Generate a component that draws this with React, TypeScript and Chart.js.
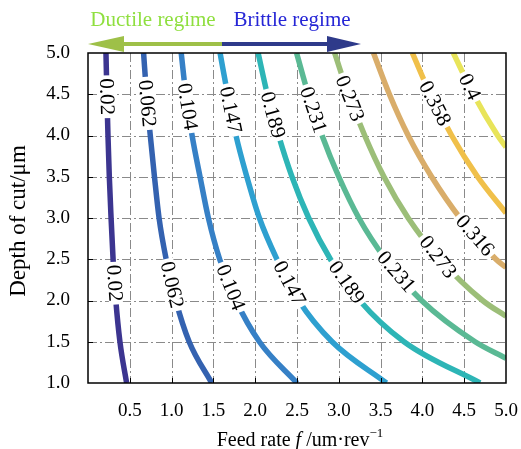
import React, { useEffect, useRef } from 'react';
import { Chart, registerables } from 'chart.js';

Chart.register(...registerables);

const SERIF = "'Liberation Serif', 'Times New Roman', serif";

// contour levels and colours
const levels = ['0.02', '0.062', '0.104', '0.147', '0.189', '0.231', '0.273', '0.316', '0.358', '0.4'];
const colors = ['#3c3590', '#3462b0', '#3680c6', '#2ea0d0', '#2db5b6', '#5ab994', '#9cbe78', '#d9ad6a', '#f0c04a', '#e8e45a'];

// depth of cut (y) and feed rate (x) along each contour
const depthFull = [5.0, 4.5, 4.0, 3.5, 3.0, 2.5, 2.0, 1.5, 1.0];
const feed002 = [0.215, 0.226, 0.239, 0.255, 0.276, 0.300, 0.333, 0.382, 0.462];
const feed0062 = [0.665, 0.70, 0.745, 0.795, 0.85, 0.935, 1.05, 1.21, 1.48];
const feed0104 = [1.115, 1.17, 1.245, 1.34, 1.44, 1.575, 1.77, 2.05, 2.50];
const feed0147 = [1.58, 1.67, 1.77, 1.90, 2.05, 2.26, 2.52, 2.92, 3.57];
const feed0189 = [2.035, 2.145, 2.28, 2.44, 2.64, 2.90, 3.25, 3.78, 4.69];
const depth0231 = [5.0, 4.5, 4.0, 3.5, 3.0, 2.5, 2.0, 1.5, 1.30];
const feed0231 = [2.495, 2.635, 2.80, 3.0, 3.24, 3.56, 3.99, 4.63, 5.0];
const depth0273 = [5.0, 4.5, 4.0, 3.5, 3.0, 2.5, 2.0, 1.81];
const feed0273 = [2.95, 3.115, 3.31, 3.54, 3.83, 4.21, 4.72, 5.0];
const depth0316 = [5.0, 4.5, 4.0, 3.5, 3.0, 2.5, 2.40];
const feed0316 = [3.415, 3.605, 3.83, 4.11, 4.45, 4.88, 5.0];
const depth0358 = [5.0, 4.5, 4.0, 3.5, 3.06];
const feed0358 = [3.88, 4.095, 4.35, 4.66, 5.0];
const depth04 = [5.0, 4.5, 4.0, 3.86];
const feed04 = [4.37, 4.61, 4.90, 5.0];

const contourFeeds = [feed002, feed0062, feed0104, feed0147, feed0189, feed0231, feed0273, feed0316, feed0358, feed04];
const contourDepths = [depthFull, depthFull, depthFull, depthFull, depthFull, depth0231, depth0273, depth0316, depth0358, depth04];

// depth at which inline labels sit on each contour
const topLabelDepth = [4.47, 4.39, 4.35, 4.31, 4.25, 4.31, 4.45, null, 4.39, 4.59];
const bottomLabelDepth = [2.21, 2.19, 2.16, 2.21, 2.22, 2.35, 2.53, 2.79, null, null];

const xTicks = [0.5, 1.0, 1.5, 2.0, 2.5, 3.0, 3.5, 4.0, 4.5];
const yTicks = [1.5, 2.0, 2.5, 3.0, 3.5, 4.0, 4.5];

const decorPlugin = {
  id: 'decor',
  beforeDatasetsDraw(chart: any) {
    const { ctx, chartArea: a, scales } = chart;
    const xs = scales.x, ys = scales.y;
    ctx.save();
    ctx.strokeStyle = '#8a8a8a';
    ctx.lineWidth = 1;
    ctx.setLineDash([9, 3, 2, 3]);
    xTicks.forEach((v) => {
      const px = Math.round(xs.getPixelForValue(v)) + 0.5;
      ctx.beginPath();
      ctx.moveTo(px, a.top);
      ctx.lineTo(px, a.bottom);
      ctx.stroke();
    });
    yTicks.forEach((v) => {
      const py = Math.round(ys.getPixelForValue(v)) + 0.5;
      ctx.beginPath();
      ctx.moveTo(a.left, py);
      ctx.lineTo(a.right, py);
      ctx.stroke();
    });
    ctx.restore();
  },
  afterDatasetsDraw(chart: any) {
    const { ctx, chartArea: a, scales } = chart;
    const xs = scales.x, ys = scales.y;
    // inline contour labels
    ctx.save();
    ctx.font = `21px ${SERIF}`;
    levels.forEach((lab, i) => {
      const meta = chart.getDatasetMeta(i);
      const pts = meta.data;
      [topLabelDepth[i], bottomLabelDepth[i]].forEach((d) => {
        if (d === null || d === undefined) return;
        const py = ys.getPixelForValue(d);
        for (let j = 0; j < pts.length - 1; j++) {
          const p1 = pts[j], p2 = pts[j + 1];
          if (p1.y <= py && py <= p2.y) {
            const t = (py - p1.y) / (p2.y - p1.y || 1);
            const px = p1.x + t * (p2.x - p1.x);
            const ang = Math.atan2(p2.y - p1.y, p2.x - p1.x);
            const w = ctx.measureText(lab).width;
            ctx.save();
            ctx.translate(px, py);
            ctx.rotate(ang);
            ctx.fillStyle = '#ffffff';
            ctx.fillRect(-w / 2 - 3, -7, w + 6, 14);
            ctx.fillStyle = '#000000';
            ctx.textAlign = 'center';
            ctx.textBaseline = 'middle';
            ctx.fillText(lab, 0, 1);
            ctx.restore();
            break;
          }
        }
      });
    });
    ctx.restore();

    // frame and inner ticks
    ctx.save();
    ctx.strokeStyle = '#000';
    ctx.lineWidth = 1.5;
    ctx.strokeRect(a.left, a.top, a.right - a.left, a.bottom - a.top);
    ctx.lineWidth = 1;
    xTicks.forEach((v) => {
      const px = Math.round(xs.getPixelForValue(v)) + 0.5;
      ctx.beginPath();
      ctx.moveTo(px, a.bottom);
      ctx.lineTo(px, a.bottom - 5);
      ctx.stroke();
    });
    yTicks.forEach((v) => {
      const py = Math.round(ys.getPixelForValue(v)) + 0.5;
      ctx.beginPath();
      ctx.moveTo(a.left, py);
      ctx.lineTo(a.left + 5, py);
      ctx.stroke();
    });
    ctx.restore();
  },
  afterDraw(chart: any) {
    const { ctx } = chart;
    ctx.save();
    // x title
    const parts = [
      { t: 'Feed rate ', f: `20px ${SERIF}`, dy: 0 },
      { t: 'f', f: `italic 20px ${SERIF}`, dy: 0 },
      { t: ' /um·rev', f: `20px ${SERIF}`, dy: 0 },
      { t: '−1', f: `13px ${SERIF}`, dy: -9 },
    ];
    let total = 0;
    parts.forEach((p) => { ctx.font = p.f; total += ctx.measureText(p.t).width; });
    let x = 300 - total / 2;
    ctx.fillStyle = '#000';
    ctx.textBaseline = 'alphabetic';
    ctx.textAlign = 'left';
    parts.forEach((p) => {
      ctx.font = p.f;
      ctx.fillText(p.t, x, 446 + p.dy);
      x += ctx.measureText(p.t).width;
    });
    // y title
    ctx.save();
    ctx.translate(25, 221);
    ctx.rotate(-Math.PI / 2);
    ctx.font = `23px ${SERIF}`;
    ctx.textAlign = 'center';
    ctx.fillText('Depth of cut/μm', 0, 0);
    ctx.restore();

    // regime legend
    ctx.font = `21px ${SERIF}`;
    ctx.textAlign = 'center';
    ctx.fillStyle = '#8fdf3f';
    ctx.fillText('Ductile regime', 153, 26);
    ctx.fillStyle = '#2626d6';
    ctx.fillText('Brittle regime', 292, 26);

    // arrows
    ctx.lineWidth = 4;
    ctx.strokeStyle = '#9ec048';
    ctx.beginPath(); ctx.moveTo(118, 44); ctx.lineTo(222, 44); ctx.stroke();
    ctx.fillStyle = '#9ec048';
    ctx.beginPath(); ctx.moveTo(88, 44); ctx.lineTo(124, 36); ctx.lineTo(124, 52); ctx.closePath(); ctx.fill();
    ctx.strokeStyle = '#2e3a8a';
    ctx.beginPath(); ctx.moveTo(222, 44); ctx.lineTo(332, 44); ctx.stroke();
    ctx.fillStyle = '#2e3a8a';
    ctx.beginPath(); ctx.moveTo(361, 44); ctx.lineTo(327, 36); ctx.lineTo(327, 52); ctx.closePath(); ctx.fill();
    ctx.restore();
  },
};

export default function App() {
  const ref = useRef<HTMLCanvasElement | null>(null);
  useEffect(() => {
    if (!ref.current) return;
    const datasets = levels.map((lab, i) => ({
      label: lab,
      data: contourFeeds[i].map((f, k) => ({ x: f, y: contourDepths[i][k] })).sort((p, q) => p.x - q.x),
      borderColor: colors[i],
      backgroundColor: colors[i],
      borderWidth: 5.5,
      pointRadius: 0,
      showLine: true,
      fill: false,
      cubicInterpolationMode: 'monotone' as const,
      clip: 0,
    }));
    const tickFont = { family: SERIF, size: 19 };
    const chart = new Chart(ref.current, {
      type: 'scatter',
      data: { datasets },
      options: {
        animation: false,
        responsive: false,
        devicePixelRatio: 1,
        layout: { padding: { left: 0, right: 15, top: 53, bottom: 0 } },
        plugins: { legend: { display: false }, tooltip: { enabled: false } },
        scales: {
          x: {
            type: 'linear',
            min: 0,
            max: 5,
            grid: { display: false, drawTicks: false },
            border: { display: false },
            ticks: {
              stepSize: 0.5,
              autoSkip: false,
              maxRotation: 0,
              padding: 17,
              color: '#000',
              font: tickFont,
              callback: (v: any) => (Number(v) === 0 ? '' : Number(v).toFixed(1)),
            },
            afterFit: (s: any) => { s.height = 66; s.paddingLeft = 0; s.paddingRight = 0; },
          },
          y: {
            type: 'linear',
            min: 1,
            max: 5,
            grid: { display: false, drawTicks: false },
            border: { display: false },
            ticks: {
              stepSize: 0.5,
              autoSkip: false,
              padding: 18,
              color: '#000',
              font: tickFont,
              callback: (v: any) => Number(v).toFixed(1),
            },
            afterFit: (s: any) => { s.width = 88; s.paddingTop = 0; s.paddingBottom = 0; },
          },
        },
      },
      plugins: [decorPlugin],
    });
    return () => chart.destroy();
  }, []);
  return (
    <div style={{ position: 'absolute', left: 0, top: 0, width: 521, height: 449, background: '#fff' }}>
      <canvas ref={ref} width={521} height={449} style={{ width: 521, height: 449 }} />
    </div>
  );
}
